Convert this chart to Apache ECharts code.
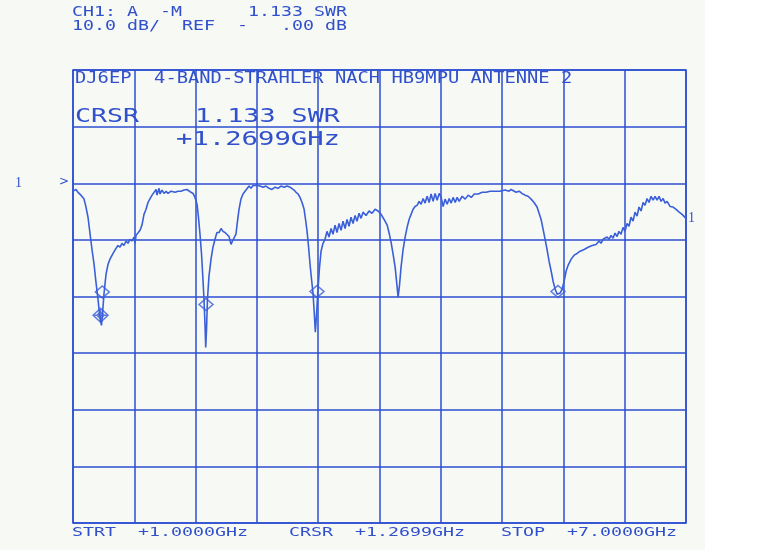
<!DOCTYPE html>
<html>
<head>
<meta charset="utf-8">
<script src="https://cdn.jsdelivr.net/npm/echarts@6/dist/echarts.min.js"></script>
<style>
html,body{margin:0;padding:0;background:#ffffff;}
#chart{width:763px;height:550px;}
</style>
</head>
<body>
<div id="chart"></div>
<script>
// ---- data ----
const freqGHz = [1.000,1.029,1.049,1.078,1.108,1.127,1.147,1.166,1.186,1.206,1.225,1.245,1.259,1.270,1.279,1.289,1.303,1.323,1.343,1.362,1.392,1.421,1.440,1.460,1.480,1.499,1.519,1.538,1.558,1.578,1.597,1.607,1.617,1.636,1.656,1.675,1.695,1.715,1.734,1.754,1.774,1.793,1.813,1.822,1.842,1.852,1.871,1.891,1.911,1.930,1.960,1.979,1.999,2.028,2.057,2.087,2.116,2.135,2.155,2.175,2.194,2.214,2.228,2.243,2.258,2.272,2.282,2.292,2.299,2.307,2.316,2.331,2.351,2.370,2.390,2.409,2.429,2.449,2.468,2.488,2.507,2.527,2.547,2.561,2.576,2.595,2.610,2.625,2.644,2.664,2.684,2.703,2.723,2.742,2.762,2.781,2.801,2.831,2.860,2.889,2.919,2.948,2.977,3.007,3.036,3.066,3.095,3.125,3.144,3.164,3.183,3.203,3.222,3.242,3.262,3.276,3.291,3.306,3.320,3.335,3.350,3.362,3.372,3.384,3.398,3.413,3.428,3.447,3.467,3.486,3.506,3.526,3.545,3.565,3.584,3.604,3.624,3.643,3.663,3.682,3.702,3.721,3.741,3.761,3.780,3.800,3.819,3.839,3.868,3.898,3.927,3.957,3.986,4.016,4.045,4.075,4.093,4.113,4.133,4.153,4.167,4.182,4.197,4.211,4.231,4.251,4.270,4.290,4.309,4.329,4.348,4.368,4.388,4.407,4.427,4.446,4.466,4.486,4.505,4.525,4.544,4.564,4.584,4.603,4.623,4.642,4.662,4.682,4.701,4.721,4.741,4.760,4.780,4.809,4.839,4.868,4.898,4.927,4.966,5.005,5.044,5.082,5.131,5.180,5.229,5.268,5.288,5.307,5.337,5.366,5.395,5.425,5.454,5.484,5.513,5.542,5.562,5.582,5.601,5.621,5.640,5.660,5.680,5.699,5.719,5.739,5.753,5.768,5.787,5.807,5.827,5.846,5.876,5.905,5.934,5.964,6.003,6.042,6.081,6.120,6.149,6.168,6.188,6.207,6.227,6.247,6.266,6.286,6.305,6.325,6.344,6.364,6.384,6.403,6.423,6.442,6.462,6.482,6.501,6.521,6.540,6.560,6.580,6.599,6.619,6.638,6.658,6.678,6.697,6.717,6.736,6.756,6.776,6.795,6.815,6.844,6.874,6.903,6.933,6.962,7.000];
const returnLossDB = [-1.4,-1.1,-1.6,-2.1,-2.8,-4.2,-6.0,-8.8,-11.7,-14.3,-17.5,-20.5,-23.0,-24.4,-25.1,-23.0,-19.6,-16.1,-14.3,-13.4,-12.4,-11.5,-11.0,-11.3,-10.6,-11.0,-10.2,-10.6,-9.9,-10.2,-9.5,-10.6,-9.2,-8.8,-8.3,-7.4,-5.5,-4.6,-3.4,-2.7,-2.1,-1.8,-1.1,-2.1,-0.9,-1.9,-1.2,-1.8,-1.4,-1.8,-1.4,-1.1,-1.6,-1.4,-1.4,-1.2,-1.1,-1.4,-1.6,-1.8,-2.5,-3.7,-6.0,-9.0,-12.5,-17.0,-20.5,-24.9,-29.0,-25.8,-20.5,-16.4,-13.4,-11.3,-9.9,-8.7,-8.7,-8.0,-8.5,-8.7,-8.5,-9.4,-10.8,-10.2,-9.9,-9.0,-6.7,-4.6,-2.8,-1.9,-1.4,-1.1,-0.5,-0.9,-0.4,-0.7,-0.4,-0.5,-0.7,-0.5,-0.9,-1.1,-0.7,-0.9,-0.5,-0.7,-0.5,-0.7,-0.9,-1.2,-1.6,-1.9,-2.5,-3.4,-4.6,-6.4,-8.5,-11.3,-14.3,-17.0,-19.6,-23.1,-26.3,-23.1,-18.7,-14.8,-12.0,-10.6,-9.9,-8.5,-9.5,-8.0,-9.0,-7.4,-8.7,-7.1,-8.3,-6.7,-8.0,-6.4,-7.6,-6.0,-7.1,-5.7,-6.7,-5.3,-6.2,-5.1,-5.7,-4.9,-5.3,-4.6,-4.9,-5.5,-6.4,-7.4,-8.7,-10.4,-12.5,-14.8,-17.3,-20.1,-17.8,-14.8,-11.7,-9.5,-7.8,-6.4,-5.5,-4.6,-4.1,-3.9,-3.2,-3.7,-2.7,-3.5,-2.3,-3.4,-1.9,-3.2,-1.8,-3.0,-1.8,-2.5,-4.1,-2.8,-3.7,-2.7,-3.5,-2.5,-3.4,-2.5,-3.2,-2.3,-2.8,-2.1,-2.5,-1.9,-1.9,-1.6,-1.6,-1.4,-1.4,-1.4,-1.2,-1.4,-1.1,-1.4,-1.6,-1.4,-1.8,-2.1,-2.3,-2.8,-3.4,-4.2,-5.3,-6.4,-8.1,-9.9,-11.7,-13.8,-15.5,-17.3,-18.7,-19.6,-19.8,-19.4,-18.7,-17.3,-15.5,-14.5,-13.4,-12.7,-12.4,-12.0,-11.7,-11.3,-11.0,-10.8,-10.2,-10.6,-9.9,-10.2,-9.5,-9.9,-9.2,-9.7,-8.8,-9.4,-8.5,-9.0,-7.8,-8.5,-7.1,-7.6,-6.0,-6.7,-5.1,-5.8,-4.2,-4.9,-3.4,-3.9,-2.7,-3.4,-2.3,-3.0,-2.3,-3.0,-2.3,-3.2,-2.7,-3.5,-3.2,-4.1,-4.2,-4.6,-5.1,-5.5,-6.2];
const markerFreq = [1.287, 2.302, 3.388, 5.747];
const markerDB   = [-19.2, -21.4, -19.1, -19.1];
const activeMarkerFreq = [1.2699];
const activeMarkerDB   = [-23.3];
const xMin = 1, xMax = 7, xStep = 0.6;        // GHz
const yMin = -60, yMax = 20, yStep = 10;      // dB, 10 dB/div, REF at 0
const headerLine1 = "CH1: A  -M      1.133 SWR";
const headerLine2 = "10.0 dB/  REF  -   .00 dB";
const titleText = "DJ6EP  4-BAND-STRAHLER NACH HB9MPU ANTENNE 2";
const crsrLabel = "CRSR";
const crsrValue = "1.133 SWR";
const crsrFreq = "+1.2699GHz";
const footStart = "STRT  +1.0000GHz";
const footCursor = "CRSR  +1.2699GHz";
const footStop = "STOP  +7.0000GHz";

// ---- styling ----
const GRID = '#2c4ed2';
const TRACE = '#3a5fd8';
const TXT = '#3150cc';
const MONO = '"DejaVu Sans Mono", "Liberation Mono", monospace';

function monoText(str, x, yMid, size, pitch, extra) {
  return Object.assign({
    type: 'text', x: x, y: yMid, z: 50,
    scaleX: pitch / (size * 0.602), originX: 0, originY: 0,
    style: { text: str, x: 0, y: 0, font: size + 'px ' + MONO, fill: TXT,
             align: 'left', verticalAlign: 'middle', textAlign: 'left', textVerticalAlign: 'middle' }
  }, extra || {});
}

const chart = echarts.init(document.getElementById('chart'), null, { renderer: 'canvas' });

const traceData = freqGHz.map((f, i) => [f, returnLossDB[i]]);
const markerData = markerFreq.map((f, i) => [f, markerDB[i]]);
const activeData = activeMarkerFreq.map((f, i) => [f, activeMarkerDB[i]]);

chart.setOption({
  animation: false,
  backgroundColor: '#ffffff',
  grid: { left: 73, top: 70, right: 77, bottom: 27, show: true, borderColor: GRID, borderWidth: 1.5, backgroundColor: 'transparent', z: 2 },
  xAxis: {
    type: 'value', min: xMin, max: xMax, interval: xStep,
    axisLine: { show: false }, axisTick: { show: false }, axisLabel: { show: false },
    splitLine: { show: true, lineStyle: { color: GRID, width: 1.5 } }
  },
  yAxis: {
    type: 'value', min: yMin, max: yMax, interval: yStep,
    axisLine: { show: false }, axisTick: { show: false }, axisLabel: { show: false },
    splitLine: { show: true, lineStyle: { color: GRID, width: 1.5 } }
  },
  graphic: [
    { type: 'rect', z: -10, shape: { x: 0, y: 0, width: 705, height: 550 }, style: { fill: '#f7f9f5' } },
    monoText(headerLine1, 72, 12, 14, 11),
    monoText(headerLine2, 72, 26, 14, 11),
    monoText(titleText, 75, 79, 16, 11.3),
    monoText(crsrLabel, 75, 117, 20, 16),
    monoText(crsrValue, 195, 117, 20, 16.1),
    monoText(crsrFreq, 176, 140, 20, 16.4),
    monoText(footStart, 72, 533, 12.5, 11),
    monoText(footCursor, 289, 533, 12.5, 11),
    monoText(footStop, 501, 533, 12.5, 11),
    { type: 'text', x: 15, y: 183, z: 50, style: { text: '1', font: '14px "Liberation Serif", serif', fill: TXT, verticalAlign: 'middle', textVerticalAlign: 'middle' } },
    { type: 'text', x: 59, y: 182, z: 50, style: { text: '>', font: '12px "DejaVu Sans", sans-serif', fill: TXT, verticalAlign: 'middle', textVerticalAlign: 'middle' } },
    { type: 'text', x: 688, y: 218, z: 50, style: { text: '1', font: '14px "Liberation Serif", serif', fill: TXT, verticalAlign: 'middle', textVerticalAlign: 'middle' } }
  ],
  series: [
    {
      type: 'line', data: traceData, showSymbol: false, symbol: 'none', z: 5,
      lineStyle: { color: TRACE, width: 1.6 }, clip: true
    },
    {
      type: 'scatter', data: markerData, symbol: 'diamond', symbolSize: [14, 12], z: 6,
      itemStyle: { color: 'rgba(0,0,0,0)', borderColor: TRACE, borderWidth: 1.5 }
    },
    {
      type: 'scatter', data: activeData, z: 7,
      symbol: 'path://M0,-10L10,0L0,10L-10,0ZM0,-5L5,0L0,5L-5,0ZM-10,0L10,0M0,-10L0,10',
      symbolSize: [15, 14],
      itemStyle: { color: 'rgba(0,0,0,0)', borderColor: TRACE, borderWidth: 1.5 }
    }
  ]
});
</script>
</body>
</html>
